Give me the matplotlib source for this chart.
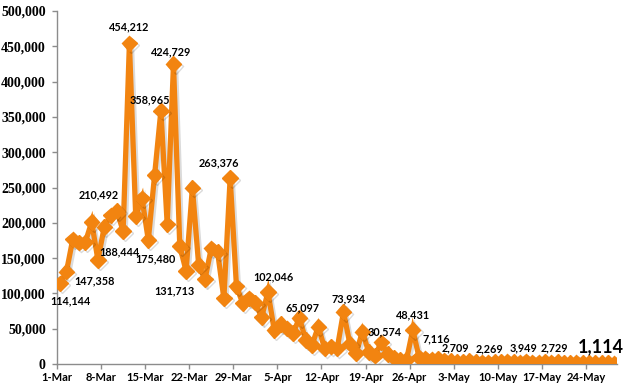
import matplotlib
matplotlib.use("Agg")
import matplotlib.pyplot as plt
import matplotlib.patheffects as pe
import numpy as np

# Daily values, 1-Mar (day 0) through 28-May (day 88)
values = [
    114144, 130700, 176500, 172000, 172500, 201000, 147358, 194000, 210492, 217000,
    188444, 454212, 209600, 234600, 175480, 267600, 358965, 198000, 424729, 167000,
    131713, 249700, 140000, 120000, 164000, 159000, 93000, 263376, 110000, 86000,
    93000, 87000, 66000, 102046, 48000, 56600, 50500, 44000, 65097, 34000,
    27000, 53000, 22000, 24500, 22000, 73934, 29000, 15000, 45800, 17000,
    12000, 30574, 14000, 9000, 6000, 5500, 48431, 9500, 8200, 6500,
    7116, 5200, 4100, 2709, 3300, 4200, 3100, 2600, 2269, 3400,
    2900, 3600, 2800, 2400, 3949, 2600, 2200, 3100, 2500, 2729,
    2100, 1900, 2600, 1800, 1600, 2000, 1500, 1300, 1114,
]
tick_days = [0, 7, 14, 21, 28, 35, 42, 49, 56, 63, 70, 77, 84]
tick_labels = ["1-Mar", "8-Mar", "15-Mar", "22-Mar", "29-Mar", "5-Apr", "12-Apr",
               "19-Apr", "26-Apr", "3-May", "10-May", "17-May", "24-May"]
y_ticks = [0, 50000, 100000, 150000, 200000, 250000, 300000, 350000, 400000, 450000, 500000]

# labelled points: day index
label_days = [0, 6, 8, 10, 11, 14, 16, 18, 20, 27, 33, 38, 45, 51, 56, 60, 63, 68, 74, 79, 88]
# label offsets in pixels (dx, dy)
label_offsets = [(10, -17), (-3, -21), (-12, 21), (-4, -21), (0, 16), (7, -19), (-11, 11),
                 (-2, 12), (-12, -20), (-11, 15), (6, 15), (3, 10), (5, 12.5), (3, 11),
                 (0, 15), (-2, 20), (-1, 14), (1, 14), (-3, 13), (-3, 14), (-13, 16.5)]

fig = plt.figure(figsize=(6.26, 3.88), dpi=100)
ax = fig.add_axes([57 / 626, 1 - 364 / 388, (617.4 - 57) / 626, (364 - 11) / 388])

x = np.arange(len(values)) + 0.5
orange = "#F28410"
ax.plot(x, values, color=orange, lw=3.8, marker="D", ms=7.8, mec=orange, mfc=orange,
        solid_joinstyle="miter", zorder=3,
        path_effects=[pe.SimpleLineShadow(offset=(1.5, -1.5), shadow_color="black", alpha=0.14),
                      pe.Normal()])

ax.set_xlim(0, 89)
ax.set_ylim(0, 500000)
ax.set_xticks(tick_days)
ax.set_xticklabels(tick_labels)
ax.set_yticks(y_ticks)
ax.set_yticklabels([f"{v:,}" for v in y_ticks])

for s in ["top", "right"]:
    ax.spines[s].set_visible(False)
for s in ["left", "bottom"]:
    ax.spines[s].set_color("#8c8c8c")
    ax.spines[s].set_linewidth(1.0)

ax.tick_params(axis="y", direction="out", length=3.6, width=1, color="#8c8c8c", pad=4.5)
ax.tick_params(axis="x", direction="out", length=3.6, width=1, color="#8c8c8c", pad=2)
for lab in ax.get_yticklabels():
    lab.set_fontfamily("Liberation Serif")
    lab.set_fontweight("bold")
    lab.set_fontsize(10)
for lab in ax.get_xticklabels():
    lab.set_fontfamily("Lato")
    lab.set_fontweight("bold")
    lab.set_fontsize(8)

for d, (dx, dy) in zip(label_days, label_offsets):
    v = values[d]
    big = (d == len(values) - 1)
    ax.annotate(f"{v:,}", xy=(d + 0.5, v), xytext=(dx, dy), textcoords="offset pixels",
                ha="center", va="center", fontfamily="Lato", fontweight="bold",
                fontsize=13 if big else 7.8, color="black", zorder=5)

fig.savefig("out.png", dpi=100)
